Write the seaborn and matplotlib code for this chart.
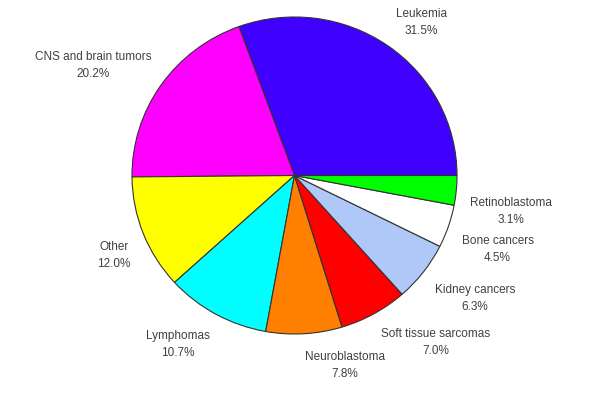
import numpy as np
import seaborn as sns
import matplotlib.pyplot as plt

# data
categories = ["Leukemia", "CNS and brain tumors", "Other", "Lymphomas", "Neuroblastoma",
              "Soft tissue sarcomas", "Kidney cancers", "Bone cancers", "Retinoblastoma"]
percents = [31.5, 20.2, 12.0, 10.7, 7.8, 7.0, 6.3, 4.5, 3.1]
colors = ["#3f00ff", "#ff00ff", "#ffff00", "#00ffff", "#ff8000",
          "#ff0000", "#b0c8f8", "#ffffff", "#00ff00"]

# label anchor points (layout only), in units of the pie radius
label_x = [0.78, -1.24, -1.11, -0.72, 0.31, 0.87, 1.11, 1.25, 1.33]
label_y = [0.97, 0.70, -0.50, -1.06, -1.19, -1.05, -0.77, -0.46, -0.22]

sns.set_theme(style="white")
plt.rcParams['font.family'] = ['Liberation Sans', 'DejaVu Sans']

fig = plt.figure(figsize=(6.06, 4.06), dpi=100)
ax = fig.add_axes([0, 0, 1, 1])

ax.pie(percents, colors=sns.color_palette(colors), startangle=0, counterclock=True,
       wedgeprops=dict(edgecolor="#333333", linewidth=0.8))

for name, p, x, y in zip(categories, percents, label_x, label_y):
    ax.text(x, y, f"{name}\n{p:.1f}%", ha="center", va="center", fontsize=8.5,
            color="#404040", linespacing=1.55)

# pie is drawn slightly wider than tall, as in the original
ax.set_aspect("auto")
ax.set_xlim(-294.5 / 162.5, 311.5 / 162.5)
ax.set_ylim(-229.5 / 158.5, 176.5 / 158.5)
ax.axis("off")

fig.savefig("out.png", dpi=100, facecolor="white")
